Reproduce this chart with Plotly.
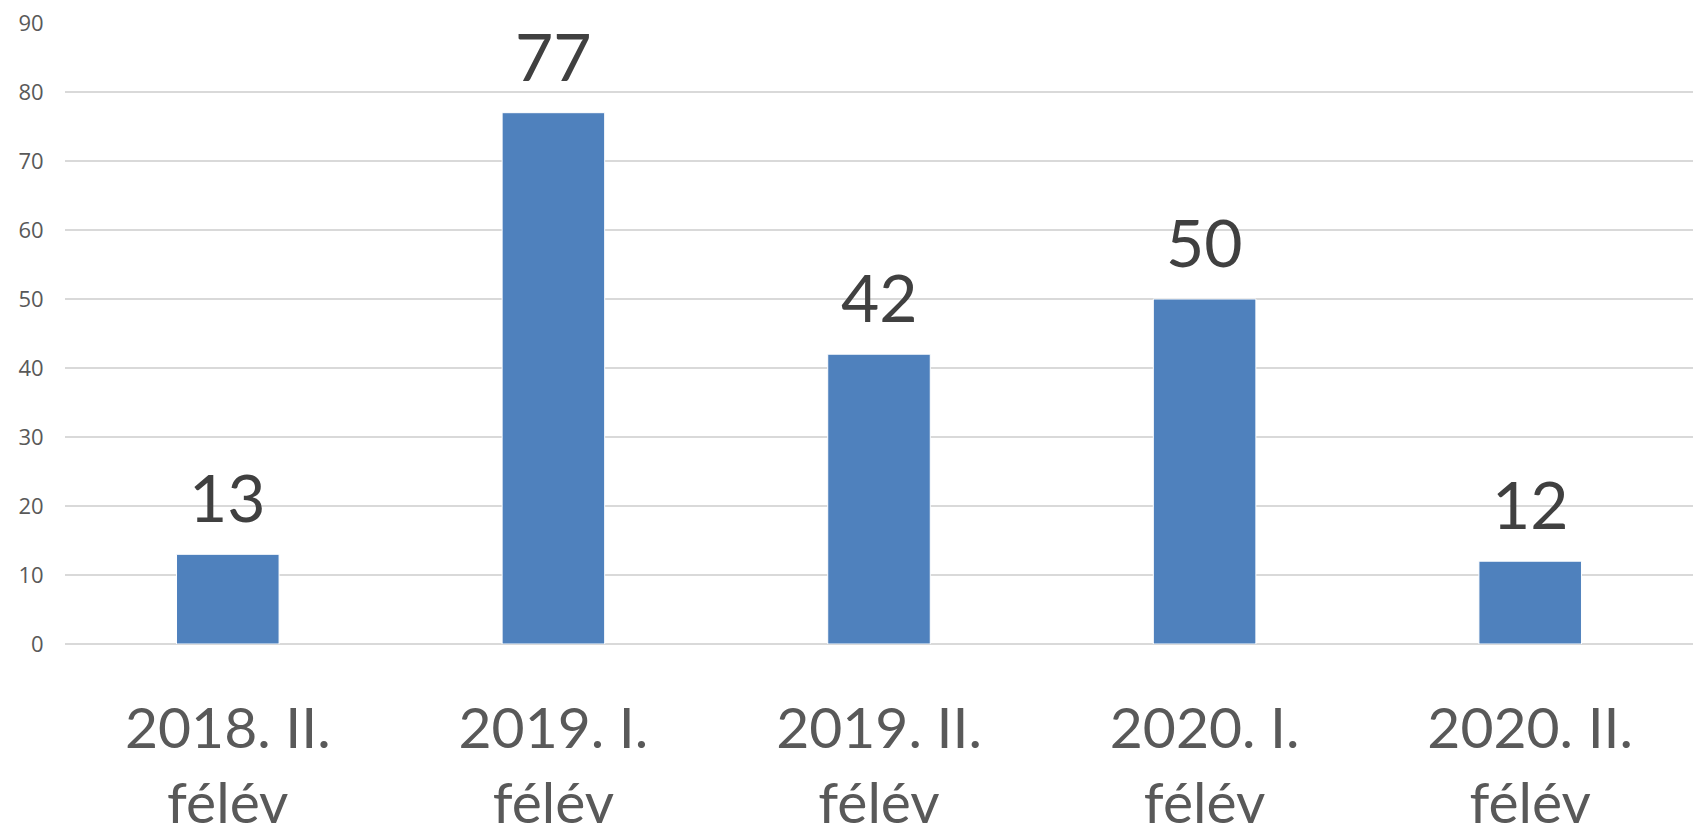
import plotly.graph_objects as go

categories = ["2018. II.<br>félév", "2019. I.<br>félév", "2019. II.<br>félév", "2020. I.<br>félév", "2020. II.<br>félév"]
values = [13, 77, 42, 50, 12]
y_ticks = [0, 10, 20, 30, 40, 50, 60, 70, 80, 90]

fig = go.Figure(go.Bar(
    x=categories, y=values,
    marker=dict(color="#4F81BD", line=dict(color="#FFFFFF", width=1)),
    cliponaxis=False,
    hoverinfo="skip",
))

for c, v in zip(categories, values):
    fig.add_annotation(
        x=c, y=v, text=str(v), showarrow=False,
        yanchor="bottom", yshift=16,
        font=dict(family="Lato", size=66, color="#404040"),
    )

fig.update_layout(
    width=1693, height=831,
    margin=dict(l=65, r=0, t=23, b=187),
    paper_bgcolor="white", plot_bgcolor="white",
    bargap=0.685,
    showlegend=False,
    font=dict(family="Lato"),
)
fig.update_xaxes(
    automargin=False,
    showgrid=False, showline=False, zeroline=False,
    ticks="outside", ticklen=35, tickcolor="rgba(0,0,0,0)",
    tickfont=dict(family="Lato", size=57, color="#595959"),
)
fig.update_yaxes(
    automargin=False,
    range=[0, 90], tickvals=y_ticks,
    showgrid=True, gridcolor="#D9D9D9", gridwidth=2,
    zeroline=True, zerolinecolor="#D9D9D9", zerolinewidth=2,
    ticks="outside", ticklen=16, tickcolor="rgba(0,0,0,0)",
    tickfont=dict(family="Open Sans", size=22, color="#595959"),
)

fig.write_html(
    "out.html",
    config={"displayModeBar": False},
    post_script="document.body.style.margin='0';document.body.style.overflow='hidden';",
)
